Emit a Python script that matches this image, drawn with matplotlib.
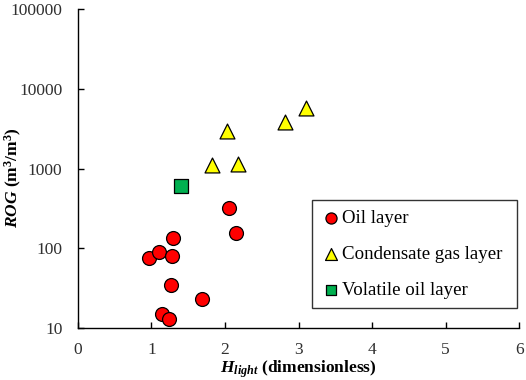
import matplotlib
matplotlib.use('Agg')
import matplotlib.pyplot as plt

plt.rcParams['font.family'] = 'Liberation Serif'
plt.rcParams['mathtext.fontset'] = 'custom'
plt.rcParams['mathtext.rm'] = 'Liberation Serif'
plt.rcParams['mathtext.it'] = 'Liberation Serif:italic'
plt.rcParams['mathtext.bf'] = 'Liberation Serif:bold'
plt.rcParams['mathtext.bfit'] = 'Liberation Serif:bold:italic'

# Oil layer
oil_x = [0.97, 1.10, 1.29, 1.28, 1.27, 1.69, 1.14, 1.24, 2.06, 2.15]
oil_y = [75, 89, 135, 79, 35, 23, 15, 13, 316, 154]

# Condensate gas layer
gas_x = [1.83, 2.18, 2.03, 2.82, 3.10]
gas_y = [1100, 1150, 3000, 3800, 5800]

# Volatile oil layer
vol_x = [1.40]
vol_y = [600]

x_ticks = [0, 1, 2, 3, 4, 5, 6]
y_ticks = [10, 100, 1000, 10000, 100000]

fig = plt.figure(figsize=(5.26, 3.80), dpi=100)
ax = fig.add_axes([0.148, 0.137, 0.839, 0.839])

ax.scatter(oil_x, oil_y, s=100, marker='o', facecolor='#FF0000',
           edgecolor='black', linewidth=0.9, label='Oil layer', zorder=3)
ax.scatter(gas_x, gas_y, s=115, marker='^', facecolor='#FFFF00',
           edgecolor='black', linewidth=0.9, label='Condensate gas layer', zorder=3)
ax.scatter(vol_x, vol_y, s=95, marker='s', facecolor='#00B050',
           edgecolor='black', linewidth=0.9, label='Volatile oil layer', zorder=3)

ax.set_yscale('log')
ax.set_xlim(0, 6)
ax.set_ylim(10, 100000)
ax.set_xticks(x_ticks)
ax.set_xticklabels([str(t) for t in x_ticks])
ax.set_yticks(y_ticks)
ax.set_yticklabels([str(t) for t in y_ticks])
ax.minorticks_off()
ax.tick_params(direction='in', length=4, width=1, labelsize=12.5,
               labelcolor='#303030')
ax.tick_params(axis='x', pad=10)
ax.tick_params(axis='y', pad=11)

ax.spines['top'].set_visible(False)
ax.spines['right'].set_visible(False)
ax.spines['left'].set_linewidth(1)
ax.spines['bottom'].set_linewidth(1)

ax.set_xlabel(r'$\mathbfit{H}_{\mathbfit{light}}$ (dimensionless)',
              fontsize=12.5, fontweight='bold', labelpad=0.5)
ax.set_ylabel(r'$\mathbfit{ROG}$ (m$^{\mathbf{3}}$/m$^{\mathbf{3}}$)',
              fontsize=12.5, fontweight='bold')
ax.yaxis.set_label_coords(-0.122, 0.473)

leg = ax.legend(loc='lower left', bbox_to_anchor=(0.531, 0.063, 0.464, 0.335),
                mode='expand', borderaxespad=0, fontsize=13.6, markerscale=0.8,
                handletextpad=0.1, handlelength=1.0, labelspacing=1.0,
                borderpad=0.48, fancybox=False, frameon=True, edgecolor='black')
leg.get_frame().set_linewidth(1)

fig.savefig('out.png', dpi=100)
